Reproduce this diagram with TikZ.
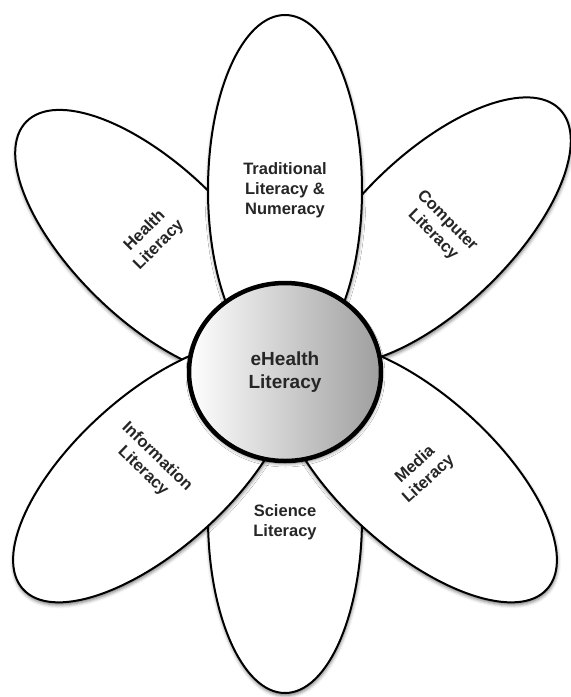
\documentclass[tikz,border=0pt]{standalone}
\usepackage{fontspec}
\setmainfont{Liberation Sans}
\usetikzlibrary{shapes.geometric,shadows.blur}
\begin{document}
\begin{tikzpicture}[x=1pt,y=-1pt,
  petal/.style={ellipse, draw=black, line width=2pt, fill=white,
    minimum width=350pt, minimum height=154pt, inner sep=0pt,
    blur shadow={shadow xshift=0.5pt, shadow yshift=-2.5pt, shadow blur radius=3.5pt, shadow opacity=55}},
  lbl/.style={font=\bfseries\fontsize{16.5}{20}\selectfont, text=black!85, align=center, inner sep=0pt},
  hub/.style={ellipse, draw=black, line width=4.5pt, minimum width=192pt, minimum height=178pt,
    inner sep=0pt, left color=white, right color=black!38, align=center,
    font=\bfseries\fontsize{19}{23}\selectfont, text=black!85,
    blur shadow={shadow xshift=0.5pt, shadow yshift=-2.5pt, shadow blur radius=3.5pt, shadow opacity=55}}
]
\useasboundingbox (0,0) rectangle (571,697);
\node[petal, rotate=136] (phealth) at (152,243.5) {};
\node[petal, rotate=44] (pcomputer) at (434,231) {};
\node[petal, rotate=90] (pscience) at (285,518) {};
\node[petal, rotate=90] (ptrad) at (285,190) {};
\node[petal, rotate=222] (pinfo) at (153,472) {};
\node[petal, rotate=318] (pmedia) at (417,472) {};
\node[hub] (ehealth) at (285,372) {eHealth\\Literacy};
\node[lbl] (ttrad) at (285,190) {Traditional\\Literacy \&\\Numeracy};
\node[lbl, rotate=45] (thealth) at (152,238) {Health\\Literacy};
\node[lbl, rotate=-45] (tcomputer) at (440,228) {Computer\\Literacy};
\node[lbl, rotate=-44] (tinfo) at (150,464) {Information\\Literacy};
\node[lbl, rotate=42] (tmedia) at (422,472) {Media\\Literacy};
\node[lbl] (tscience) at (285,522) {Science\\Literacy};
\end{tikzpicture}
\end{document}
